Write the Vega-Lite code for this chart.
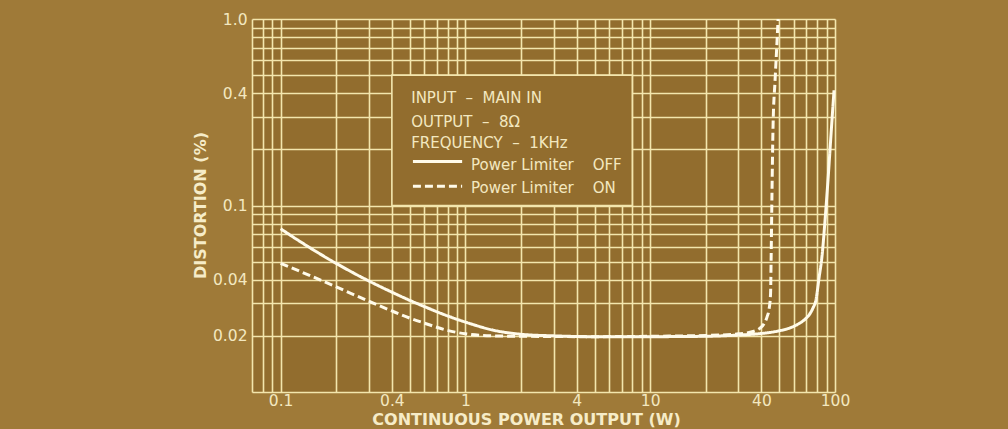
{
  "$schema": "https://vega.github.io/schema/vega-lite/v6.json",
  "autosize": "none",
  "width": 583,
  "height": 373,
  "padding": {"left": 252, "top": 19, "right": 173, "bottom": 37},
  "background": "#9f7a38",
  "config": {
    "view": {"fill": "#926d2e", "stroke": null},
    "font": "DejaVu Sans",
    "axis": {
      "domain": false,
      "ticks": false,
      "grid": true,
      "gridColor": "#f3e6ad",
      "gridWidth": 1.6,
      "gridOpacity": 1,
      "labelColor": "#f3e8c0",
      "labelFont": "DejaVu Sans",
      "labelFontSize": 15.5,
      "labelFontWeight": "normal",
      "labelOverlap": false,
      "labelFlush": false,
      "labelBound": false,
      "titleColor": "#f6ecc8",
      "titleFont": "DejaVu Sans",
      "titleFontSize": 16,
      "titleFontWeight": "bold"
    }
  },
  "datasets": {
    "curves": [
      {"limiter": "OFF", "x": 0.1, "y": 0.075},
      {"limiter": "OFF", "x": 0.15, "y": 0.0579},
      {"limiter": "OFF", "x": 0.2, "y": 0.0489},
      {"limiter": "OFF", "x": 0.3, "y": 0.0394},
      {"limiter": "OFF", "x": 0.4, "y": 0.0343},
      {"limiter": "OFF", "x": 0.5, "y": 0.031},
      {"limiter": "OFF", "x": 0.6, "y": 0.0287},
      {"limiter": "OFF", "x": 0.8, "y": 0.0256},
      {"limiter": "OFF", "x": 1.07, "y": 0.0232},
      {"limiter": "OFF", "x": 1.4, "y": 0.0215},
      {"limiter": "OFF", "x": 2, "y": 0.0204},
      {"limiter": "OFF", "x": 3, "y": 0.02},
      {"limiter": "OFF", "x": 5, "y": 0.0198},
      {"limiter": "OFF", "x": 10, "y": 0.0198},
      {"limiter": "OFF", "x": 20, "y": 0.0199},
      {"limiter": "OFF", "x": 30, "y": 0.0202},
      {"limiter": "OFF", "x": 40, "y": 0.0206},
      {"limiter": "OFF", "x": 50, "y": 0.0213},
      {"limiter": "OFF", "x": 58, "y": 0.0222},
      {"limiter": "OFF", "x": 64, "y": 0.0233},
      {"limiter": "OFF", "x": 69, "y": 0.0246},
      {"limiter": "OFF", "x": 73, "y": 0.0262},
      {"limiter": "OFF", "x": 76, "y": 0.0282},
      {"limiter": "OFF", "x": 78.9, "y": 0.0312},
      {"limiter": "OFF", "x": 82, "y": 0.041},
      {"limiter": "OFF", "x": 85.1, "y": 0.0538},
      {"limiter": "OFF", "x": 88.3, "y": 0.083},
      {"limiter": "OFF", "x": 91.6, "y": 0.136},
      {"limiter": "OFF", "x": 95.1, "y": 0.238},
      {"limiter": "OFF", "x": 98.8, "y": 0.415},
      {"limiter": "ON", "x": 0.1, "y": 0.049},
      {"limiter": "ON", "x": 0.15, "y": 0.0414},
      {"limiter": "ON", "x": 0.2, "y": 0.0366},
      {"limiter": "ON", "x": 0.3, "y": 0.0307},
      {"limiter": "ON", "x": 0.4, "y": 0.0272},
      {"limiter": "ON", "x": 0.5, "y": 0.0249},
      {"limiter": "ON", "x": 0.6, "y": 0.0234},
      {"limiter": "ON", "x": 0.8, "y": 0.0214},
      {"limiter": "ON", "x": 1, "y": 0.0205},
      {"limiter": "ON", "x": 1.4, "y": 0.02},
      {"limiter": "ON", "x": 2, "y": 0.0199},
      {"limiter": "ON", "x": 5, "y": 0.0198},
      {"limiter": "ON", "x": 10, "y": 0.0199},
      {"limiter": "ON", "x": 20, "y": 0.0201},
      {"limiter": "ON", "x": 30, "y": 0.0205},
      {"limiter": "ON", "x": 36, "y": 0.0211},
      {"limiter": "ON", "x": 38.8, "y": 0.0218},
      {"limiter": "ON", "x": 41.3, "y": 0.0232},
      {"limiter": "ON", "x": 42.9, "y": 0.0253},
      {"limiter": "ON", "x": 44.0, "y": 0.0279},
      {"limiter": "ON", "x": 44.8, "y": 0.0336},
      {"limiter": "ON", "x": 45.1, "y": 0.0506},
      {"limiter": "ON", "x": 45.6, "y": 0.116},
      {"limiter": "ON", "x": 46.2, "y": 0.263},
      {"limiter": "ON", "x": 47.4, "y": 0.47},
      {"limiter": "ON", "x": 48.6, "y": 0.77},
      {"limiter": "ON", "x": 49.2, "y": 1.0}
    ],
    "box": [{"x": 0.4, "x2": 8, "y": 0.1, "y2": 0.5}],
    "notes": [
      {"x": 0.509, "y": 0.3535, "text": "INPUT\u00a0\u00a0–\u00a0\u00a0MAIN IN"},
      {"x": 0.509, "y": 0.2627, "text": "OUTPUT\u00a0\u00a0–\u00a0\u00a08Ω"},
      {"x": 0.509, "y": 0.2025, "text": "FREQUENCY\u00a0\u00a0–\u00a0\u00a01KHz"},
      {"x": 1.073, "y": 0.1542, "text": "Power Limiter"},
      {"x": 4.88, "y": 0.1542, "text": "OFF"},
      {"x": 1.073, "y": 0.116, "text": "Power Limiter"},
      {"x": 4.88, "y": 0.116, "text": "ON"}
    ],
    "keys": [
      {"limiter": "OFF", "x": 0.52, "x2": 0.96, "y": 0.172},
      {"limiter": "ON", "x": 0.52, "x2": 0.96, "y": 0.127}
    ]
  },
  "encoding": {
    "x": {
      "field": "x",
      "type": "quantitative",
      "scale": {"type": "log", "domain": [0.07, 100], "nice": false, "zero": false},
      "axis": {
        "title": "CONTINUOUS POWER OUTPUT (W)",
        "values": [0.07, 0.08, 0.09, 0.1, 0.2, 0.3, 0.4, 0.5, 0.6, 0.7, 0.8, 0.9, 1, 2, 3, 4, 5, 6, 7, 8, 9, 10, 20, 30, 40, 50, 60, 70, 80, 90, 100],
        "labelExpr": "indexof([0.1, 0.4, 1, 4, 10, 40, 100], datum.value) >= 0 ? format(datum.value, '~g') : ''",
        "labelPadding": 1,
        "titleX": 274,
        "titleY": 27.5,
        "titleBaseline": "middle",
        "titleAnchor": "middle"
      }
    },
    "y": {
      "field": "y",
      "type": "quantitative",
      "scale": {"type": "log", "domain": [0.01, 1], "nice": false, "zero": false},
      "axis": {
        "title": "DISTORTION (%)",
        "values": [0.01, 0.02, 0.03, 0.04, 0.05, 0.06, 0.07, 0.08, 0.09, 0.1, 0.2, 0.3, 0.4, 0.5, 0.6, 0.7, 0.8, 0.9, 1],
        "labelExpr": "datum.value == 1 ? '1.0' : (indexof([0.4, 0.1, 0.04, 0.02], datum.value) >= 0 ? format(datum.value, '~g') : '')",
        "labelPadding": 5,
        "titleX": -52,
        "titleY": 186,
        "titleBaseline": "middle",
        "titleAnchor": "middle"
      }
    }
  },
  "layer": [
    {
      "data": {"name": "box"},
      "mark": {"type": "rect", "fill": "#926d2e", "stroke": "#f3e6ad", "strokeWidth": 1.6},
      "encoding": {"x2": {"field": "x2"}, "y2": {"field": "y2"}}
    },
    {
      "data": {"name": "curves"},
      "mark": {"type": "line", "strokeWidth": 3, "color": "#fffbea", "interpolate": "monotone"},
      "encoding": {
        "detail": {"field": "limiter"},
        "strokeDash": {
          "field": "limiter",
          "type": "nominal",
          "scale": {"domain": ["OFF", "ON"], "range": [[1, 0], [8, 4]]},
          "legend": null
        }
      }
    },
    {
      "data": {"name": "keys"},
      "mark": {"type": "rule", "strokeWidth": 3, "color": "#fffbea"},
      "encoding": {
        "x2": {"field": "x2"},
        "strokeDash": {
          "field": "limiter",
          "type": "nominal",
          "scale": {"domain": ["OFF", "ON"], "range": [[1, 0], [8, 4]]},
          "legend": null
        }
      }
    },
    {
      "data": {"name": "notes"},
      "mark": {"type": "text", "align": "left", "baseline": "alphabetic", "fontSize": 15, "color": "#f3e8c0", "font": "DejaVu Sans"},
      "encoding": {"text": {"field": "text"}}
    }
  ]
}
